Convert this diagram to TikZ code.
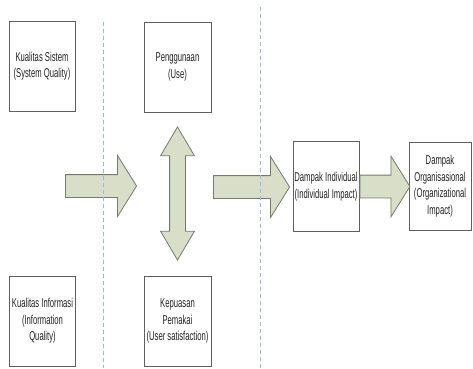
\documentclass[tikz,border=0pt]{standalone}
\usepackage{fontspec}
\newfontfamily\narrowsans[FakeStretch=0.6]{Liberation Sans}
\usepackage{tikz}
\usetikzlibrary{positioning,shapes.arrows,shadows}

\definecolor{arrowfill}{RGB}{216,222,200}
\definecolor{arrowline}{RGB}{118,122,108}
\definecolor{guideblue}{RGB}{150,185,230}
\definecolor{boxline}{RGB}{95,95,95}
\definecolor{boxtext}{RGB}{35,35,35}

\tikzset{
  concept/.style={draw=boxline, line width=1pt, fill=white, align=center,
    minimum width=66pt, minimum height=90pt, inner sep=1pt, text=boxtext,
    font=\narrowsans\fontsize{12.8}{16.5}\selectfont,
    drop shadow={shadow xshift=0.8pt, shadow yshift=-0.8pt, opacity=0.25}},
  flow/.style={single arrow, draw=arrowline, fill=arrowfill, line width=0.8pt,
    inner xsep=0pt, inner ysep=11pt, single arrow head extend=19pt,
    single arrow tip angle=116},
  updown/.style={double arrow, draw=arrowline, fill=arrowfill, line width=0.8pt,
    inner xsep=0pt, inner ysep=7.5pt, double arrow head extend=9pt,
    double arrow tip angle=61, rotate=90},
  guide/.style={guideblue, line width=0.8pt, dash pattern=on 4pt off 3pt}
}

\begin{document}
\begin{tikzpicture}[x=1pt,y=-1pt]
    \useasboundingbox (0,0) rectangle (473,368);

    % Factors on the left
    \node[concept] (sys) at (42,66) {Kualitas Sistem\\(System Quality)};
    \node[concept] (info) at (42.5,321) {Kualitas Informasi\\(Information\\Quality)};

    % Use and satisfaction
    \node[concept, minimum width=67pt] (use) at (177.5,67) {Penggunaan\\(Use)};
    \node[concept, minimum width=67pt] (sat) at (177.5,321) {Kepuasan\\Pemakai\\(User satisfaction)};

    % Impacts
    \node[concept] (ind) at (326,186.5) {Dampak Individual\\(Individual Impact)};
    \node[concept, minimum width=62pt, minimum height=88pt] (org) at (440,186) {Dampak\\Organisasional\\(Organizational\\Impact)};

    % Block arrows
    \node[flow, minimum height=71pt] (toUse) at (97.5,186) {};
    \node[updown, minimum height=133pt] (useSat) at (177.5,193.5) {};
    \node[flow, minimum height=76pt] (toInd) at (248,187) {};
    \node[flow, minimum height=50pt, anchor=tail] (toOrg) at (ind.east) {};

    % Dashed guides
    \coordinate (g1top) at (103,22);
    \coordinate (g1bot) at (103,368);
    \coordinate (g2top) at (260,7);
    \coordinate (g2bot) at (260,368);
    \draw[guide] (g1top) -- (g1bot);
    \draw[guide] (g2top) -- (g2bot);

\end{tikzpicture}
\end{document}
